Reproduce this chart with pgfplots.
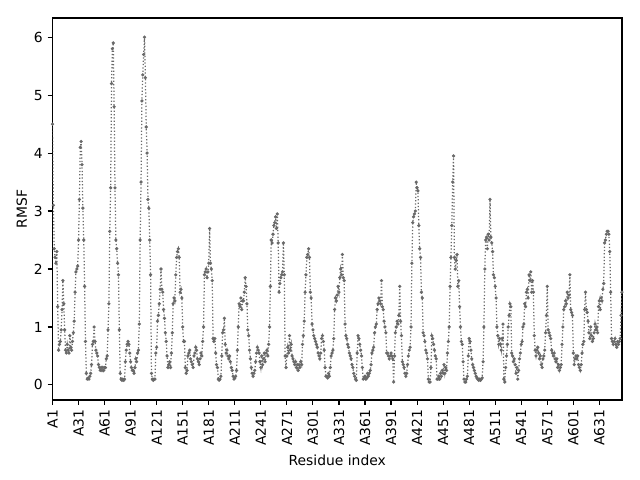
\documentclass[border=0pt]{standalone}
\usepackage{fontspec}
\setmainfont{DejaVu Sans}
\usepackage{pgfplots}
\pgfplotsset{compat=1.18}
\definecolor{dgray}{RGB}{105,105,105}
\begin{document}
\fontsize{10pt}{12pt}\selectfont
\begin{tikzpicture}
\path[use as bounding box] (0,0) rectangle (460.8pt,345.6pt);
\begin{axis}[
  at={(37.8pt,57.6pt)}, anchor=south west,
  scale only axis, width=410pt, height=275pt,
  xmin=0, xmax=656, ymin=-0.26, ymax=6.33,
  xtick={0,30,...,630},
  xticklabels={A1,A31,A61,A91,A121,A151,A181,A211,A241,A271,A301,A331,A361,A391,A421,A451,A481,A511,A541,A571,A601,A631},
  xticklabel style={rotate=90, anchor=east, font=\fontsize{10pt}{12pt}\selectfont},
  yticklabel style={font=\fontsize{10pt}{12pt}\selectfont},
  ytick={0,1,2,3,4,5,6},
  /pgf/number format/assume math mode=true,
  tick align=outside, major tick length=3.5pt,
  xtick pos=left, ytick pos=left,
  axis line style={line width=0.8pt},
  every tick/.style={line width=0.8pt, black},
  xlabel={Residue index}, ylabel={RMSF},
  label style={font=\fontsize{10pt}{12pt}\selectfont},
  ylabel style={yshift=-2pt},
]
\addplot[dgray, line width=0.9pt, dash pattern=on 0.9pt off 1.5pt, mark=*, mark size=0.65pt, mark options={solid, fill=dgray, draw=dgray}] coordinates {
(0,4.5)(1,3.1)(2,2.35)(3,2.2)(4,2.1)(5,2.3)(6,1.35)(7,0.6)(8,0.7)(9,0.75)
(10,0.95)(11,1.3)(12,1.8)(13,1.4)(14,0.95)(15,0.6)(16,0.55)(17,0.7)(18,0.6)(19,0.55)
(20,0.85)(21,0.65)(22,0.6)(23,0.75)(24,0.9)(25,1.1)(26,1.6)(27,1.95)(28,2.0)(29,2.05)
(30,2.5)(31,3.2)(32,4.1)(33,4.2)(34,3.8)(35,3.05)(36,2.5)(37,1.7)(38,0.75)(39,0.2)
(40,0.1)(41,0.12)(42,0.1)(43,0.15)(44,0.2)(45,0.35)(46,0.7)(47,0.75)(48,1.0)(49,0.75)
(50,0.6)(51,0.55)(52,0.5)(53,0.35)(54,0.3)(55,0.25)(56,0.3)(57,0.25)(58,0.3)(59,0.25)
(60,0.3)(61,0.3)(62,0.45)(63,0.5)(64,0.95)(65,1.4)(66,2.65)(67,3.4)(68,5.2)(69,5.8)
(70,5.9)(71,4.8)(72,3.4)(73,2.5)(74,2.35)(75,2.1)(76,1.9)(77,0.95)(78,0.2)(79,0.1)
(80,0.08)(81,0.1)(82,0.08)(83,0.1)(84,0.4)(85,0.6)(86,0.7)(87,0.75)(88,0.7)(89,0.55)
(90,0.4)(91,0.3)(92,0.25)(93,0.25)(94,0.2)(95,0.3)(96,0.45)(97,0.4)(98,0.55)(99,0.6)
(100,1.05)(101,2.5)(102,3.5)(103,4.9)(104,5.35)(105,5.7)(106,6.0)(107,5.3)(108,4.45)(109,4.0)
(110,3.2)(111,3.05)(112,2.5)(113,1.9)(114,0.2)(115,0.1)(116,0.08)(117,0.1)(118,0.1)(119,0.55)
(120,0.65)(121,1.1)(122,1.2)(123,1.4)(124,1.65)(125,2.0)(126,1.65)(127,1.6)(128,1.3)(129,1.15)
(130,0.9)(131,0.75)(132,0.5)(133,0.3)(134,0.35)(135,0.4)(136,0.3)(137,0.55)(138,0.9)(139,1.4)
(140,1.5)(141,1.45)(142,1.9)(143,2.2)(144,2.3)(145,2.35)(146,2.2)(147,1.6)(148,1.65)(149,1.5)
(150,1.0)(151,0.75)(152,0.75)(153,0.3)(154,0.2)(155,0.25)(156,0.5)(157,0.55)(158,0.6)(159,0.45)
(160,0.4)(161,0.35)(162,0.3)(163,0.5)(164,0.55)(165,0.65)(166,0.6)(167,0.45)(168,0.4)(169,0.35)
(170,0.45)(171,0.55)(172,0.5)(173,0.75)(174,1.0)(175,1.9)(176,1.95)(177,2.0)(178,1.85)(179,1.95)
(180,2.1)(181,2.7)(182,2.1)(183,2.0)(184,1.8)(185,0.8)(186,0.75)(187,0.8)(188,0.55)(189,0.35)
(190,0.3)(191,0.1)(192,0.08)(193,0.1)(194,0.15)(195,0.5)(196,0.9)(197,0.95)(198,1.15)(199,0.7)
(200,0.55)(201,0.6)(202,0.5)(203,0.45)(204,0.5)(205,0.4)(206,0.3)(207,0.25)(208,0.15)(209,0.1)
(210,0.12)(211,0.15)(212,0.25)(213,0.6)(214,1.0)(215,1.4)(216,1.35)(217,1.5)(218,1.3)(219,1.45)
(220,1.45)(221,1.6)(222,1.85)(223,1.7)(224,1.4)(225,0.95)(226,0.85)(227,0.6)(228,0.45)(229,0.3)
(230,0.2)(231,0.15)(232,0.2)(233,0.25)(234,0.4)(235,0.55)(236,0.65)(237,0.6)(238,0.55)(239,0.4)
(240,0.3)(241,0.5)(242,0.35)(243,0.45)(244,0.55)(245,0.4)(246,0.55)(247,0.6)(248,0.5)(249,0.7)
(250,1.0)(251,1.7)(252,2.5)(253,2.45)(254,2.6)(255,2.75)(256,2.8)(257,2.9)(258,2.7)(259,2.95)
(260,2.45)(261,1.6)(262,1.75)(263,1.85)(264,1.9)(265,1.95)(266,2.45)(267,1.9)(268,0.5)(269,0.3)
(270,0.5)(271,0.65)(272,0.55)(273,0.85)(274,0.6)(275,0.7)(276,0.5)(277,0.45)(278,0.4)(279,0.35)
(280,0.4)(281,0.3)(282,0.35)(283,0.25)(284,0.35)(285,0.3)(286,0.4)(287,0.35)(288,0.7)(289,0.85)
(290,1.1)(291,1.6)(292,1.9)(293,2.2)(294,2.25)(295,2.35)(296,2.2)(297,1.6)(298,1.5)(299,1.05)
(300,0.95)(301,0.85)(302,0.8)(303,0.75)(304,0.7)(305,0.65)(306,0.55)(307,0.5)(308,0.45)(309,0.55)
(310,0.8)(311,0.85)(312,0.75)(313,0.6)(314,0.3)(315,0.15)(316,0.15)(317,0.12)(318,0.2)(319,0.15)
(320,0.3)(321,0.5)(322,0.55)(323,0.6)(324,0.8)(325,1.3)(326,1.5)(327,1.45)(328,1.55)(329,1.7)
(330,1.6)(331,1.85)(332,2.0)(333,1.9)(334,2.25)(335,1.85)(336,1.8)(337,1.05)(338,0.85)(339,0.8)
(340,0.7)(341,0.65)(342,0.55)(343,0.5)(344,0.45)(345,0.35)(346,0.3)(347,0.2)(348,0.15)(349,0.1)
(350,0.08)(351,0.55)(352,0.85)(353,0.8)(354,0.7)(355,0.6)(356,0.5)(357,0.3)(358,0.1)(359,0.12)
(360,0.15)(361,0.1)(362,0.12)(363,0.2)(364,0.15)(365,0.2)(366,0.25)(367,0.35)(368,0.55)(369,0.6)
(370,0.65)(371,0.9)(372,1.0)(373,1.05)(374,1.3)(375,1.4)(376,1.5)(377,1.45)(378,1.4)(379,1.8)
(380,1.35)(381,1.3)(382,1.1)(383,1.0)(384,0.9)(385,0.55)(386,0.55)(387,0.5)(388,0.45)(389,0.5)
(390,0.55)(391,0.5)(392,0.45)(393,0.05)(394,0.5)(395,0.9)(396,1.0)(397,1.1)(398,1.05)(399,1.2)
(400,1.7)(401,1.1)(402,0.85)(403,0.4)(404,0.35)(405,0.3)(406,0.2)(407,0.15)(408,0.2)(409,0.35)
(410,0.5)(411,0.6)(412,0.65)(413,1.0)(414,2.1)(415,2.8)(416,2.9)(417,2.95)(418,3.0)(419,3.5)
(420,3.4)(421,3.35)(422,2.75)(423,2.35)(424,2.2)(425,1.6)(426,1.5)(427,0.9)(428,0.85)(429,0.75)
(430,0.6)(431,0.55)(432,0.45)(433,0.1)(434,0.05)(435,0.05)(436,0.3)(437,0.85)(438,0.8)(439,0.7)
(440,0.6)(441,0.5)(442,0.45)(443,0.1)(444,0.1)(445,0.15)(446,0.1)(447,0.2)(448,0.15)(449,0.25)
(450,0.2)(451,0.35)(452,0.2)(453,0.3)(454,0.25)(455,0.55)(456,0.75)(457,1.0)(458,1.7)(459,2.2)
(460,2.75)(461,3.5)(462,3.95)(463,2.2)(464,2.0)(465,2.15)(466,2.25)(467,1.7)(468,1.8)(469,1.35)
(470,1.0)(471,0.75)(472,0.7)(473,0.4)(474,0.1)(475,0.05)(476,0.05)(477,0.1)(478,0.15)(479,0.5)
(480,0.8)(481,0.75)(482,0.6)(483,0.45)(484,0.35)(485,0.3)(486,0.25)(487,0.2)(488,0.15)(489,0.12)
(490,0.1)(491,0.08)(492,0.1)(493,0.08)(494,0.1)(495,0.12)(496,0.4)(497,1.0)(498,2.0)(499,2.5)
(500,2.55)(501,2.35)(502,2.6)(503,2.5)(504,3.2)(505,2.55)(506,2.45)(507,2.3)(508,1.9)(509,1.85)
(510,1.7)(511,1.5)(512,1.0)(513,0.85)(514,0.7)(515,0.8)(516,0.7)(517,0.6)(518,0.8)(519,1.05)
(520,0.1)(521,0.05)(522,0.3)(523,0.5)(524,0.7)(525,1.0)(526,1.2)(527,1.4)(528,1.35)(529,0.55)
(530,0.5)(531,0.4)(532,0.45)(533,0.35)(534,0.2)(535,0.3)(536,0.1)(537,0.25)(538,0.45)(539,0.55)
(540,0.7)(541,0.75)(542,1.0)(543,1.05)(544,1.4)(545,1.35)(546,1.6)(547,1.65)(548,1.5)(549,1.9)
(550,1.8)(551,1.95)(552,1.6)(553,1.8)(554,1.6)(555,0.85)(556,0.6)(557,0.5)(558,0.6)(559,0.65)
(560,0.55)(561,0.45)(562,0.5)(563,0.35)(564,0.3)(565,0.45)(566,0.5)(567,0.6)(568,0.9)(569,1.2)
(570,1.7)(571,0.95)(572,0.9)(573,0.85)(574,0.8)(575,0.6)(576,0.55)(577,0.5)(578,0.55)(579,0.45)
(580,0.4)(581,0.45)(582,0.3)(583,0.35)(584,0.25)(585,0.3)(586,0.35)(587,0.7)(588,1.0)(589,1.3)
(590,1.35)(591,1.45)(592,1.4)(593,1.6)(594,1.5)(595,1.55)(596,1.9)(597,1.3)(598,1.25)(599,1.2)
(600,0.55)(601,0.35)(602,0.45)(603,0.5)(604,0.45)(605,0.5)(606,0.35)(607,0.3)(608,0.25)(609,0.35)
(610,0.55)(611,0.7)(612,0.75)(613,1.3)(614,1.6)(615,1.3)(616,1.25)(617,1.1)(618,0.9)(619,0.8)
(620,1.0)(621,0.85)(622,0.75)(623,0.8)(624,0.9)(625,1.05)(626,0.95)(627,1.0)(628,0.9)(629,1.35)
(630,1.45)(631,1.3)(632,1.5)(633,1.45)(634,1.65)(635,1.75)(636,2.45)(637,2.5)(638,2.6)(639,2.65)
(640,2.65)(641,2.6)(642,2.3)(643,1.6)(644,0.8)(645,0.75)(646,0.7)(647,0.75)(648,0.8)(649,0.7)
(650,0.65)(651,0.75)(652,0.7)(653,0.75)(654,0.8)(655,1.2)(656,1.6)
};
\end{axis}
\end{tikzpicture}
\end{document}
